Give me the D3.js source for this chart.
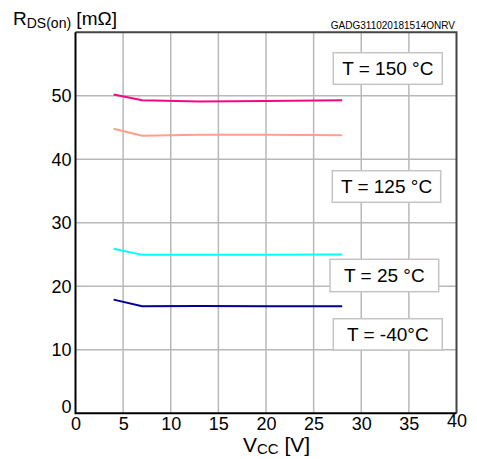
<!DOCTYPE html>
<html><head><meta charset="utf-8">
<script src="https://cdn.jsdelivr.net/npm/d3@7"></script>
<style>body{margin:0;background:#fff}svg{display:block;font-family:"Liberation Sans",Arial,sans-serif}</style>
</head><body><svg id="c" width="477" height="459"></svg>
<script>
const vcc = [4, 7, 13, 20, 28];
const r150 = [50.2, 49.3, 49.1, 49.2, 49.3];
const r125 = [44.8, 43.7, 43.85, 43.85, 43.8];
const r25 = [25.9, 24.95, 24.95, 24.95, 25.0];
const rm40 = [17.9, 16.85, 16.9, 16.85, 16.85];
const seriesNames = ["T = 150 °C", "T = 125 °C", "T = 25 °C", "T = -40°C"];
const xTicks = [0, 5, 10, 15, 20, 25, 30, 35, 40];
const yTicks = [0, 10, 20, 30, 40, 50];

const colors = ["#f5077f", "#ffa088", "#00ffff", "#000090"];
const allSeries = [r150, r125, r25, rm40];

const svg = d3.select("#c");
const L = 75.5, T = 32.3, W = 381, H = 381;
const x = d3.scaleLinear().domain([0, 40]).range([L, L + W]);
const y = d3.scaleLinear().domain([0, 60]).range([T + H, T]);

// grid
svg.append("g").selectAll("line").data(xTicks.slice(1, -1)).join("line")
  .attr("x1", d => x(d)).attr("x2", d => x(d)).attr("y1", T).attr("y2", T + H)
  .attr("stroke", "#b8b8b8").attr("stroke-width", 1.5);
svg.append("g").selectAll("line").data(yTicks.slice(1)).join("line")
  .attr("y1", d => y(d)).attr("y2", d => y(d)).attr("x1", L).attr("x2", L + W)
  .attr("stroke", "#b8b8b8").attr("stroke-width", 1.5);

// lines
const line = d3.line().x((d, i) => x(vcc[i])).y(d => y(d));
allSeries.forEach((s, k) => {
  svg.append("path").datum(s).attr("d", line).attr("fill", "none")
    .attr("stroke", colors[k]).attr("stroke-width", 2);
});

// border
svg.append("path").attr("d", `M${L},${T}H${L + W}V${T + H}`).attr("fill", "none")
  .attr("stroke", "#444").attr("stroke-width", 2);
svg.append("path").attr("d", `M${L},${T}V${T + H}H${L + W}`).attr("fill", "none")
  .attr("stroke", "#000").attr("stroke-width", 2);

// axes labels using d3 axis
const xa = svg.append("g").attr("transform", `translate(0,${T + H})`)
  .call(d3.axisBottom(x).tickValues(xTicks).tickSize(0).tickPadding(4).tickFormat(d3.format("d")));
xa.select(".domain").remove();
xa.selectAll("text").attr("font-size", 18).attr("fill", "#000").attr("font-family", "Liberation Sans, Arial, sans-serif");
xa.selectAll("text").filter(d => d === 40).attr("dy", "0.55em");

const ya = svg.append("g").attr("transform", `translate(${L},0)`)
  .call(d3.axisLeft(y).tickValues(yTicks).tickSize(0).tickPadding(4).tickFormat(d3.format("d")));
ya.select(".domain").remove();
ya.selectAll("text").attr("font-size", 18).attr("fill", "#000").attr("font-family", "Liberation Sans, Arial, sans-serif");
ya.selectAll("text").filter(d => d === 0).attr("dy", "-0.05em");

// series label boxes
const boxes = [
  {x0: 333.3, y0: 52.7, w: 109, h: 31.6},
  {x0: 332.3, y0: 170.7, w: 108.4, h: 31.6},
  {x0: 330, y0: 259.3, w: 108.7, h: 32.4},
  {x0: 333.3, y0: 318.7, w: 109, h: 31.3}
];
seriesNames.forEach((n, k) => {
  const b = boxes[k];
  svg.append("rect").attr("x", b.x0).attr("y", b.y0).attr("width", b.w).attr("height", b.h)
    .attr("fill", "#fff").attr("stroke", "#c4c4c4").attr("stroke-width", 1.5);
  svg.append("text").attr("x", b.x0 + b.w / 2).attr("y", b.y0 + b.h / 2).attr("dy", "0.36em")
    .attr("text-anchor", "middle").attr("font-size", 19).attr("fill", "#000").text(n);
});

// titles
const yt = svg.append("text").attr("x", 13).attr("y", 25).attr("font-size", 19).attr("fill", "#000");
yt.append("tspan").text("R");
yt.append("tspan").attr("font-size", 14).attr("dy", 3).text("DS(on)");
yt.append("tspan").attr("dy", -3).text(" [mΩ]");

const xt = svg.append("text").attr("x", 243).attr("y", 452).attr("font-size", 21).attr("fill", "#000");
xt.append("tspan").text("V");
xt.append("tspan").attr("font-size", 15).attr("dy", 2).text("CC");
xt.append("tspan").attr("dy", -2).text(" [V]");

svg.append("text").attr("x", 455).attr("y", 29).attr("text-anchor", "end")
  .attr("font-size", 10).attr("fill", "#000").text("GADG311020181514ONRV");
</script></body></html>
